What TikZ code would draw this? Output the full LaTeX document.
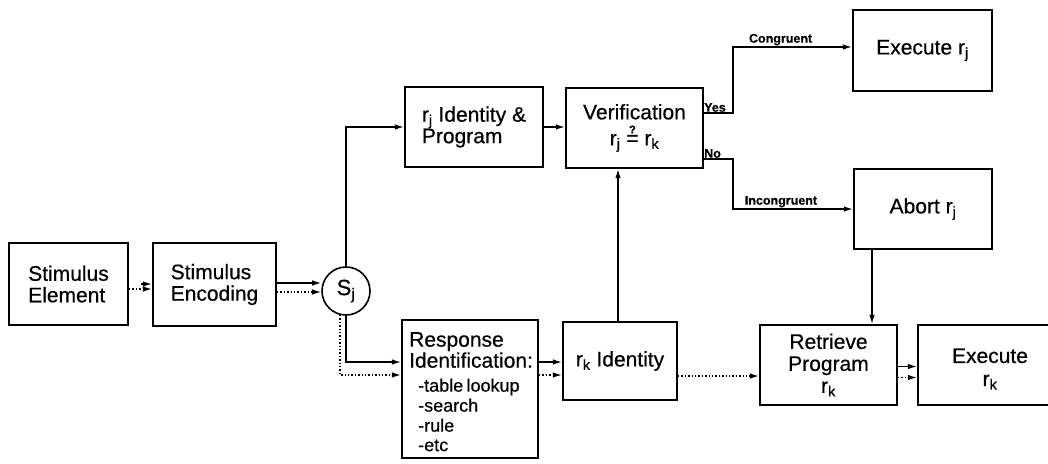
\documentclass[tikz,border=0pt]{standalone}
\usepackage{fontspec}
\setmainfont{Liberation Sans}[FakeBold=0.5]
\usetikzlibrary{arrows.meta}
\newcommand\bigtxt{\fontsize{21}{21.5}\selectfont}
\newcommand\lbltxt{\fontsize{12.5}{13}\selectfont\bfseries}
\newcommand\qeq{\ooalign{=\cr\hidewidth\raisebox{12pt}{\fontsize{11}{11}\selectfont\bfseries ?}\hidewidth\cr}}
\tikzset{
  box/.style={draw, line width=2.1pt, inner sep=0pt, font=\bigtxt},
  conn/.style={line width=1.4pt, -{Latex[length=9pt,width=5.5pt]}},
  dotconn/.style={conn, dash pattern=on 1.4pt off 2pt},
  lbl/.style={inner sep=1pt, font=\lbltxt}
}
\begin{document}
\begin{tikzpicture}[x=1pt,y=-1pt]
\useasboundingbox (0,0) rectangle (1048,463);
% boxes
\node[box, minimum width=119pt, minimum height=82pt, align=left] (se) at (68.5,284) {Stimulus\\Element};
\node[box, minimum width=123pt, minimum height=83pt, align=left] (senc) at (214.5,284.5) {Stimulus\\Encoding};
\node[box, circle, minimum size=48pt, line width=1.6pt, font=\fontsize{22}{22}\selectfont] (sj) at (346,291) {S\textsubscript{j}};
\node[box, minimum width=138pt, minimum height=80pt, align=left] (rjp) at (474,127) {r\textsubscript{j} Identity \&\\Program};
\node[box, minimum width=137pt, minimum height=80pt, align=center, font=\fontsize{21}{26}\selectfont] (ver) at (634.5,128) {Verification\\r\textsubscript{j} \qeq{} r\textsubscript{k}};
\node[box, minimum width=139pt, minimum height=81pt] (exj) at (922.5,50.5) {Execute r\textsubscript{j}};
\node[box, minimum width=138pt, minimum height=80pt] (abort) at (923,209) {Abort r\textsubscript{j}};
\node[box, minimum width=136pt, minimum height=138pt] (resp) at (470,389) {};
\node[anchor=north west, inner sep=0pt, text width=130pt, align=left] (resptext) at (409,332)
  {\parindent=0pt
   {\fontsize{21}{21}\selectfont Response\par}
   {\fontsize{21}{21}\selectfont Identification:\par}
   {\fontsize{18}{24}\selectfont\hspace*{9pt}-table lookup\par}
   {\fontsize{18}{20}\selectfont\hspace*{9pt}-search\par}
   {\fontsize{18}{20}\selectfont\hspace*{9pt}-rule\par}
   {\fontsize{18}{19.5}\selectfont\hspace*{9pt}-etc\par}};
\node[box, minimum width=114pt, minimum height=78pt] (rkid) at (620,361) {r\textsubscript{k} Identity};
\node[box, minimum width=137pt, minimum height=80pt, align=center, font=\fontsize{21}{22}\selectfont] (retr) at (828.5,365) {Retrieve\\Program\\r\textsubscript{k}};
\node[box, minimum width=144pt, minimum height=80pt] (exk) at (990,365) {};
\node[inner sep=0pt, align=center, font=\fontsize{21}{23}\selectfont] (exktext) at (990,369) {Execute\\r\textsubscript{k}};
% coordinates
\coordinate (yes) at (703,113);
\coordinate (no) at (703,159);
% connectors
\draw[conn, shorten <=12pt] (se.east) -- (se.east -| senc.west);
\draw[dotconn] ([yshift=-5pt]se.east) -- ([yshift=-5pt]se.east -| senc.west);
\draw[conn] ([yshift=1.5pt]senc.east) -- ([yshift=1.5pt]senc.east -| sj.west);
\draw[dotconn] ([yshift=-7.5pt]senc.east) -- ([yshift=-7.5pt]senc.east -| sj.west);
\draw[conn] (sj.north) |- (rjp.west);
\draw[conn] (rjp.east) -- (rjp.east -| ver.west);
\draw[conn] (yes) -- ++(30,0) |- ([yshift=3.5pt]exj.west) node[lbl, pos=0.70, above] (cong) {Congruent};
\node[lbl, anchor=south west] (yeslbl) at (yes) {Yes};
\draw[conn] (no) -- ++(30,0) |- (abort.west) node[lbl, pos=0.70, above] (incong) {Incongruent};
\node[lbl, anchor=south west] (nolbl) at (no) {No};
\draw[conn] ([xshift=-51pt]abort.south) -- ([xshift=-51pt]abort.south |- retr.north);
\draw[conn] ([xshift=-2pt]rkid.north) -- ([xshift=-2pt]rkid.north |- ver.south);
\draw[conn] (sj.south) |- ([yshift=27pt]resp.west);
\draw[dotconn] (sj.-104) |- ([yshift=14pt]resp.west);
\draw[conn] ([yshift=27pt]resp.east) -- ([yshift=27pt]resp.east -| rkid.west);
\draw[dotconn] ([yshift=14pt]resp.east) -- ([yshift=14pt]resp.east -| rkid.west);
\draw[dotconn] ([yshift=-15pt]rkid.east) -- ([yshift=-15pt]rkid.east -| retr.west);
\draw[conn] ([yshift=-1.5pt]retr.east) -- ([yshift=-1.5pt]retr.east -| exk.west);
\draw[dotconn] ([yshift=-12.5pt]retr.east) -- ([yshift=-12.5pt]retr.east -| exk.west);
\end{tikzpicture}
\end{document}
